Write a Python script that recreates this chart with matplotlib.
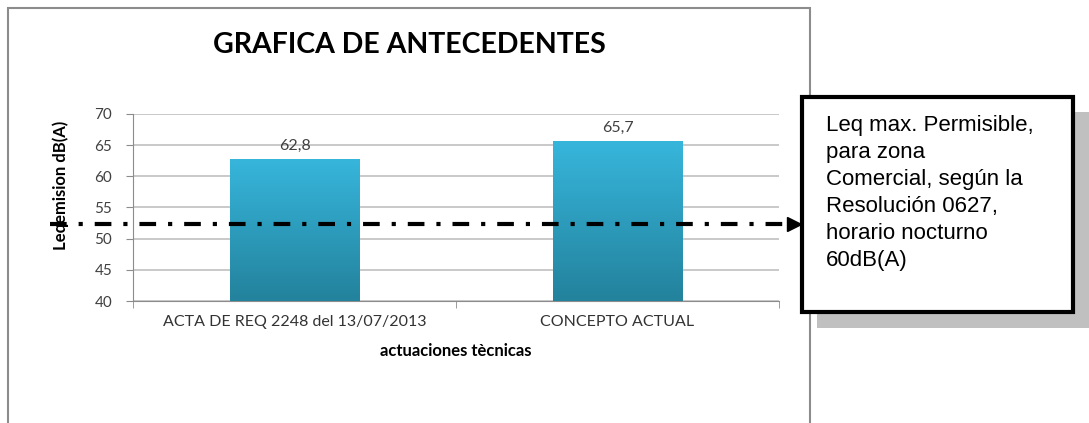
import matplotlib
matplotlib.use("Agg")
import matplotlib.pyplot as plt
import numpy as np
from matplotlib.patches import Rectangle
from matplotlib.colors import LinearSegmentedColormap
import matplotlib.transforms as mtransforms

plt.rcParams['lines.scale_dashes'] = False

categories = ["ACTA DE REQ 2248 del 13/07/2013", "CONCEPTO ACTUAL"]
values = [62.8, 65.7]
value_labels = ["62,8", "65,7"]
yticks = [40, 45, 50, 55, 60, 65, 70]
limit_level = 52.3
title = "GRAFICA DE ANTECEDENTES"
ylabel = "Leqemision dB(A)"
xlabel = "actuaciones tècnicas"
note = "Leq max. Permisible,\npara zona\nComercial, según la\nResolución 0627,\nhorario nocturno\n60dB(A)"

W, H = 1089, 423
fig = plt.figure(figsize=(W / 100, H / 100), dpi=100)
fig.patch.set_facecolor("white")

def fx(px):
    return px / W

def fy(py):
    return 1 - py / H

FONT = "Lato"

# chart frame
fig.patches.append(Rectangle((fx(8), fy(430)), fx(810) - fx(8), fy(8) - fy(430),
                             transform=fig.transFigure, fill=False,
                             edgecolor="#8c8c8c", linewidth=1.5, zorder=0))

ax = fig.add_axes([fx(133), fy(301), fx(779) - fx(133), fy(114) - fy(301)])
x = np.arange(len(categories))
bars = ax.bar(x, values, width=0.4, color="none", edgecolor="none", zorder=3)
ax.set_xlim(-0.5, len(categories) - 0.5)
ax.set_ylim(40, 70)

cmap = LinearSegmentedColormap.from_list("g", ["#23829c", "#37b6dc"])
grad = np.linspace(0, 1, 256).reshape(-1, 1)
for b in bars:
    x0, y0 = b.get_x(), b.get_y()
    w, h = b.get_width(), b.get_height()
    y_bot = 40
    im = ax.imshow(grad, extent=[x0, x0 + w, y_bot, y0 + h], origin="lower",
                   cmap=cmap, aspect="auto", zorder=3)
    im.set_clip_path(Rectangle((x0, y_bot), w, y0 + h - y_bot, transform=ax.transData))
ax.set_xlim(-0.5, len(categories) - 0.5)
ax.set_ylim(40, 70)

for xi, v, lab in zip(x, values, value_labels):
    ax.annotate(lab, (xi, v), xytext=(0, 4.5), textcoords="offset points",
                ha="center", va="bottom", fontsize=11.5, color="#404040", family=FONT)

ax.set_yticks(yticks)
ax.set_yticklabels([str(t) for t in yticks], fontsize=11, color="#404040", family=FONT)
ax.yaxis.grid(True, color="#c0c0c0", linewidth=1.2, zorder=0)
ax.set_axisbelow(True)
ax.set_xticks(x)
ax.set_xticklabels(categories, fontsize=11.5, color="#333333", family=FONT)
ax.tick_params(axis="x", length=0, pad=10)
ax.set_xticks([-0.5, 0.5, 1.5], minor=True)
ax.tick_params(axis="x", which="minor", length=5, color="#8c8c8c")
ax.tick_params(axis="y", length=5, color="#8c8c8c", pad=10)
for s in ["top", "right"]:
    ax.spines[s].set_visible(False)
for s in ["left", "bottom"]:
    ax.spines[s].set_color("#8c8c8c")
ax.set_xlabel(xlabel, fontsize=12, fontweight="bold", family=FONT, labelpad=10)

fig.text(fx(409), fy(45), title, ha="center", va="center", fontsize=20.5,
         fontweight="bold", family=FONT)
fig.text(fx(61), fy(185), ylabel, ha="center", va="center", rotation=90,
         fontsize=12, fontweight="bold", family=FONT)

# dash-dot limit line with arrow
tr = mtransforms.blended_transform_factory(fig.transFigure, ax.transData)
line, = ax.plot([fx(50), fx(788)], [limit_level, limit_level], transform=tr,
                color="black", linewidth=3, clip_on=False, zorder=6,
                solid_capstyle="butt", dash_capstyle="butt")
line.set_dashes([12, 8.6, 3, 8.6])
ax.plot([fx(794)], [limit_level], transform=tr, marker=">", markersize=10,
        color="black", clip_on=False, zorder=6)

# note box with shadow
fig.patches.append(Rectangle((fx(817), fy(328)), fx(1089) - fx(817), fy(112) - fy(328),
                             transform=fig.transFigure, facecolor="#c0c0c0",
                             edgecolor="none", zorder=5))
fig.patches.append(Rectangle((fx(802), fy(312)), fx(1073) - fx(802), fy(97) - fy(312),
                             transform=fig.transFigure, facecolor="white",
                             edgecolor="black", linewidth=3, zorder=6))
fig.text(fx(826), fy(115), note, ha="left", va="top", fontsize=16,
         family="Liberation Sans", linespacing=1.37, zorder=7)

fig.savefig("out.png", dpi=100)
